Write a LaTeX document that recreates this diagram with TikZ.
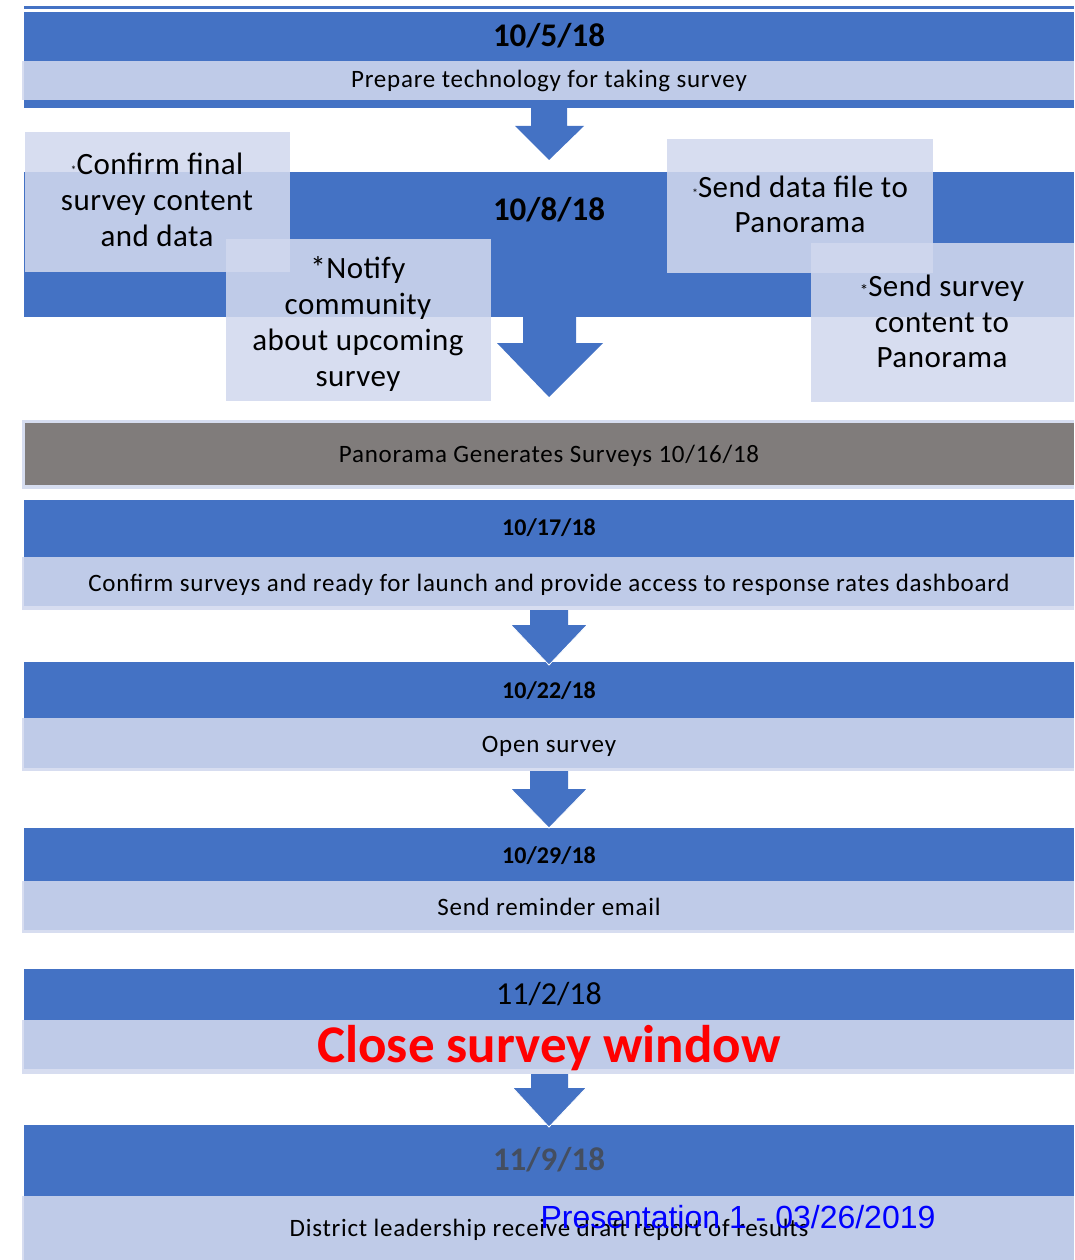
\documentclass[tikz,border=0pt]{standalone}
\usepackage{fontspec}
\setmainfont{Carlito}
\newfontfamily\spacedf[LetterSpace=3]{Carlito}
\newfontfamily\boxf[LetterSpace=1.5]{Carlito}
\newfontfamily\arialf{Liberation Sans}
\definecolor{dblue}{RGB}{68,114,196}
\definecolor{lblue}{RGB}{209,216,238}
\definecolor{gbar}{RGB}{128,124,123}
\definecolor{palec}{RGB}{214,221,240}
\definecolor{datecol}{RGB}{68,78,96}
\definecolor{wmblue}{RGB}{0,0,255}
\definecolor{redc}{RGB}{255,0,0}
\tikzset{
  band/.style={fill=dblue},
  lite/.style={fill=lblue, fill opacity=0.88},
  blockarrow/.style={fill=dblue},
  bigdate/.style={anchor=base, inner sep=0pt, font=\bfseries\fontsize{33}{33}\selectfont},
  smalldate/.style={anchor=base, inner sep=0pt, font=\bfseries\fontsize{24}{24}\selectfont},
  stepline/.style={anchor=base, inner sep=0pt, font=\spacedf\fontsize{25}{25}\selectfont},
  boxline/.style={anchor=base, inner sep=0pt, font=\boxf\fontsize{31}{31}\selectfont},
}
\newcommand{\tinyast}{{\fontsize{12}{12}\selectfont *}}
\newcommand{\midast}{{\fontsize{17}{17}\selectfont *}}
\begin{document}
\begin{tikzpicture}[x=1pt,y=-1pt]
\useasboundingbox (0,0) rectangle (1074,1260);
% top rule
\fill[band] (24,6) rectangle (1074,9);
% block 1
\fill[band] (24,12) rectangle (1074,108);
\fill[lite] (22,61) rectangle (1074,100);
% block 2
\fill[band] (24,172) rectangle (1074,317);
% gray bar
\fill[palec] (22,420) rectangle (1074,489);
\fill[gbar] (25,423) rectangle (1074,485);
% block 10/17
\fill[band] (24,500) rectangle (1074,606);
\fill[lite] (22,557) rectangle (1074,610);
% block 10/22
\fill[band] (24,662) rectangle (1074,768);
\fill[lite] (22,718) rectangle (1074,771);
% block 10/29
\fill[band] (24,828) rectangle (1074,930);
\fill[lite] (22,881) rectangle (1074,933);
% block 11/2
\fill[band] (24,969) rectangle (1074,1069);
\fill[lite] (22,1020) rectangle (1074,1074);
% block 11/9
\fill[band] (24,1125) rectangle (1074,1262);
\fill[lite] (22,1196) rectangle (1074,1262);
% arrows
\fill[blockarrow] (531,108) -- (567,108) -- (567,126) -- (584,126) -- (549,160) -- (515,126) -- (531,126) -- cycle;
\fill[blockarrow] (523,316) -- (576,316) -- (576,343) -- (603,343) -- (549,397) -- (497,343) -- (523,343) -- cycle;
\fill[blockarrow] (530,610) -- (568,610) -- (568,625) -- (587,625) -- (549,665) -- (511,625) -- (530,625) -- cycle;
\fill[blockarrow] (530,771) -- (568,771) -- (568,789) -- (587,789) -- (549,828) -- (511,789) -- (530,789) -- cycle;
\fill[blockarrow] (531,1074) -- (568,1074) -- (568,1088) -- (586,1088) -- (549,1127) -- (513,1088) -- (531,1088) -- cycle;
\draw[white, line width=0.8pt] (511,625) -- (549,665) -- (587,625);
\draw[white, line width=0.8pt] (511,789) -- (549,828) -- (587,789);
\draw[white, line width=0.8pt] (513,1088) -- (549,1127) -- (586,1088);
% overlay boxes for 10/8
\fill[lite] (25,132) rectangle (290,272);
\fill[lite] (226,239) rectangle (491,401);
\fill[lite] (667,139) rectangle (933,273);
\fill[lite] (811,243) rectangle (1074,402);
% texts
\node[bigdate] (d1) at (549,47) {10/5/18};
\node[stepline] (t1) at (549,88) {Prepare technology for taking survey};
\node[bigdate] (d2) at (549,220) {10/8/18};
\node[boxline] (c1) at (157,175) {\tinyast Confirm final};
\node[boxline] (c2) at (157,210.5) {survey content};
\node[boxline] (c3) at (157,246) {and data};
\node[boxline] (n1) at (358,278) {*Notify};
\node[boxline] (n2) at (358,314) {community};
\node[boxline] (n3) at (358,350) {about upcoming};
\node[boxline] (n4) at (358,386) {survey};
\node[boxline] (s1) at (800,197) {\tinyast Send data file to};
\node[boxline] (s2) at (800,232) {Panorama};
\node[boxline] (v1) at (942,296) {\midast Send survey};
\node[boxline] (v2) at (942,332) {content to};
\node[boxline] (v3) at (942,367) {Panorama};
\node[stepline] (g1) at (549,462) {Panorama Generates Surveys 10/16/18};
\node[smalldate] (d3) at (549,535) {10/17/18};
\node[stepline] (t3) at (549,591) {Confirm surveys and ready for launch and provide access to response rates dashboard};
\node[smalldate] (d4) at (549,698) {10/22/18};
\node[stepline] (t4) at (549,752) {Open survey};
\node[smalldate] (d5) at (549,863) {10/29/18};
\node[stepline] (t5) at (549,915) {Send reminder email};
\node[anchor=base, inner sep=0pt, font=\fontsize{32}{32}\selectfont] (d6) at (549,1004) {11/2/18};
\node[anchor=base, inner sep=0pt, text=redc, font=\bfseries\fontsize{53}{53}\selectfont] (t6) at (549,1062) {Close survey window};
\node[bigdate, text=datecol] (d7) at (549,1170) {11/9/18};
\node[stepline] (t7) at (549,1236) {District leadership receive draft report of results};
\node[anchor=base, inner sep=0pt, text=wmblue, font=\arialf\fontsize{32}{32}\selectfont] (pr) at (738,1228) {Presentation 1 - 03/26/2019};
\end{tikzpicture}
\end{document}
